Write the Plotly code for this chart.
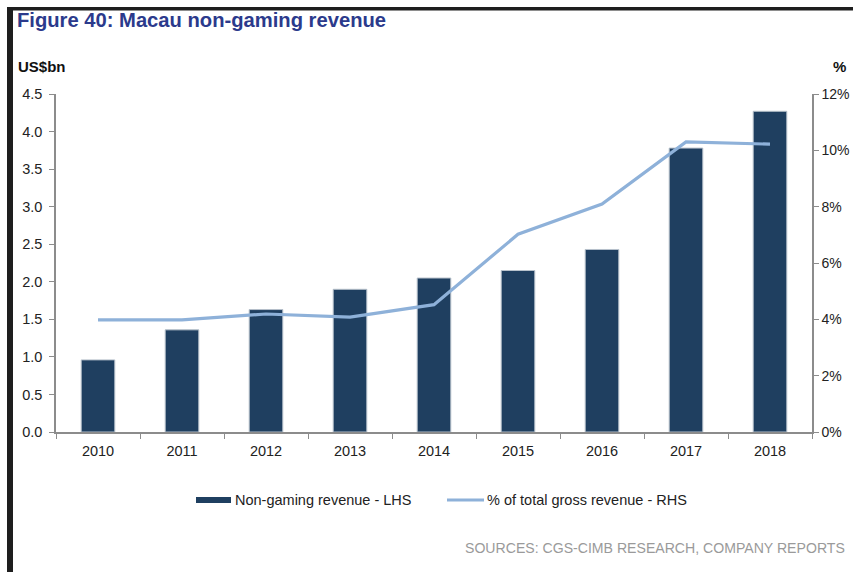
import plotly.graph_objects as go

# Macau non-gaming revenue, US$bn (LHS) and share of total gross revenue, % (RHS)
years = ["2010", "2011", "2012", "2013", "2014", "2015", "2016", "2017", "2018"]
non_gaming_bn = [0.96, 1.36, 1.63, 1.90, 2.05, 2.15, 2.43, 3.78, 4.27]
share_pct = [3.98, 3.98, 4.19, 4.08, 4.52, 7.02, 8.09, 10.30, 10.22]

left_ticks = [0.0, 0.5, 1.0, 1.5, 2.0, 2.5, 3.0, 3.5, 4.0, 4.5]
right_ticks = [0, 2, 4, 6, 8, 10, 12]

W, H = 853, 572
L, R, T, B = 56, 41, 94, 140
PW, PH = W - L - R, H - T - B

BAR = "#1F3F60"
LINE = "#8EB1D9"
AXIS = "#8C8C8C"
FONT = "Liberation Sans, Arial, sans-serif"
TXT = 14.5


def px(x):
    return (x - L) / PW


def py(y):
    return (H - B - y) / PH


fig = go.Figure()
fig.add_trace(go.Bar(
    x=years, y=non_gaming_bn, name="Non-gaming revenue - LHS",
    marker=dict(color=BAR, line=dict(color="#B8C2CC", width=1)),
    yaxis="y", showlegend=False,
))
fig.add_trace(go.Scatter(
    x=years, y=share_pct, name="% of total gross revenue - RHS",
    mode="lines", line=dict(color=LINE, width=3.2),
    yaxis="y2", showlegend=False,
))

fig.update_layout(
    width=W, height=H,
    margin=dict(l=L, r=R, t=T, b=B, autoexpand=False),
    paper_bgcolor="white", plot_bgcolor="white",
    font=dict(family=FONT, size=TXT, color="#222222"),
    bargap=0.6,
    xaxis=dict(
        type="category", showgrid=False, showline=True, linecolor=AXIS, linewidth=1.5,
        ticks="outside", tickson="boundaries", ticklen=5, tickcolor=AXIS,
        ticklabelstandoff=5, automargin=False,
        tickfont=dict(size=TXT, color="#222222"),
    ),
    yaxis=dict(
        range=[0, 4.5], tickvals=left_ticks, ticktext=[f"{v:.1f}" for v in left_ticks],
        showgrid=False, zeroline=False, showline=True, linecolor=AXIS, linewidth=1.5,
        ticks="outside", ticklen=5, tickcolor=AXIS, ticklabelstandoff=4, automargin=False,
        tickfont=dict(size=TXT, color="#222222"),
    ),
    yaxis2=dict(
        range=[0, 12], tickvals=right_ticks, ticktext=[f"{v}%" for v in right_ticks],
        overlaying="y", side="right", showgrid=False, zeroline=False,
        showline=True, linecolor=AXIS, linewidth=1.5, automargin=False,
        ticks="outside", ticklen=5, tickcolor=AXIS, ticklabelstandoff=0,
        tickfont=dict(size=14, color="#222222"),
    ),
)

shapes = [
    # frame: black left rule and top rule
    dict(type="rect", xref="paper", yref="paper", x0=px(7), x1=px(13), y0=py(H + 5), y1=py(8),
         fillcolor="#1E1E1E", line=dict(width=0), layer="above"),
    dict(type="rect", xref="paper", yref="paper", x0=px(7), x1=px(W + 5), y0=py(10.5), y1=py(7),
         fillcolor="#1E1E1E", line=dict(width=0), layer="above"),
    # legend swatches
    dict(type="rect", xref="paper", yref="paper", x0=px(196), x1=px(231), y0=py(503), y1=py(497),
         fillcolor=BAR, line=dict(width=0)),
    dict(type="line", xref="paper", yref="paper", x0=px(447), x1=px(484), y0=py(500), y1=py(500),
         line=dict(color=LINE, width=3)),
]

annotations = [
    dict(text="<b>Figure 40: Macau non-gaming revenue</b>", x=px(15), y=py(20), xref="paper", yref="paper",
         xanchor="left", yanchor="middle", showarrow=False,
         font=dict(family=FONT, size=20.2, color="#2B3A8C")),
    dict(text="<b>US$bn</b>", x=px(16), y=py(66), xref="paper", yref="paper",
         xanchor="left", yanchor="middle", showarrow=False,
         font=dict(family=FONT, size=15, color="#111111")),
    dict(text="<b>%</b>", x=px(839), y=py(66), xref="paper", yref="paper",
         xanchor="center", yanchor="middle", showarrow=False,
         font=dict(family=FONT, size=15, color="#111111")),
    dict(text="Non-gaming revenue - LHS", x=px(233), y=py(500), xref="paper", yref="paper",
         xanchor="left", yanchor="middle", showarrow=False,
         font=dict(family=FONT, size=TXT, color="#222222")),
    dict(text="% of total gross revenue - RHS", x=px(485), y=py(500), xref="paper", yref="paper",
         xanchor="left", yanchor="middle", showarrow=False,
         font=dict(family=FONT, size=TXT, color="#222222")),
    dict(text="SOURCES: CGS-CIMB RESEARCH, COMPANY REPORTS", x=px(463), y=py(548), xref="paper", yref="paper",
         xanchor="left", yanchor="middle", showarrow=False,
         font=dict(family=FONT, size=14.1, color="#9A9A9A")),
]

fig.update_layout(shapes=shapes, annotations=annotations)
fig.write_html("out.html")
